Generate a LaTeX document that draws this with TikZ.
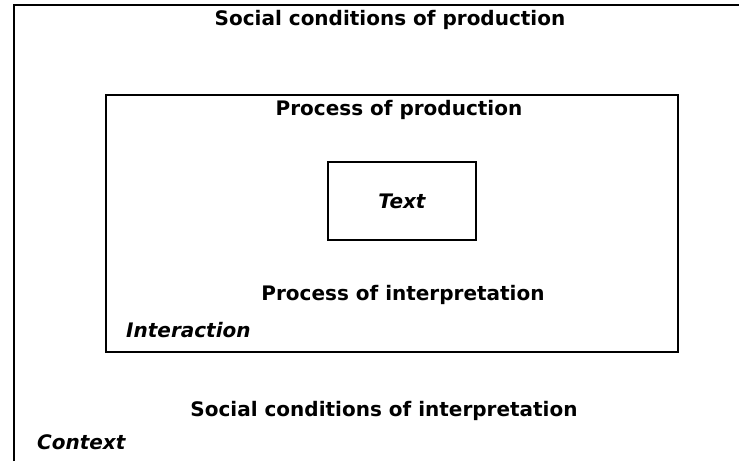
\documentclass[tikz,border=0pt]{standalone}
\usepackage{fontspec}
\setmainfont{DejaVu Sans}
\usetikzlibrary{positioning}
\begin{document}
\begin{tikzpicture}[x=1pt,y=-1pt,
   lbl/.style={font=\fontsize{20}{24}\selectfont\bfseries, inner sep=0pt},
   ilbl/.style={lbl, font=\fontsize{20}{24}\selectfont\bfseries\itshape},
   frame/.style={draw, line width=1.7pt, inner sep=0pt}]
   \useasboundingbox (0,0) rectangle (739,461);
   % outer context (cut off at right and bottom)
   \coordinate (ctxb) at (14,461);
   \coordinate (ctxtl) at (14,5);
   \coordinate (ctxr) at (739,5);
   \draw[line width=1.7pt] (ctxb) -- (ctxtl) -- (ctxr);
   % interaction box and text box
   \node (inter) [frame, minimum width=572pt, minimum height=257pt] at (392,223.5) {};
   \node (text) [frame, minimum width=148pt, minimum height=78pt] at (402,201) {};
   \node (tlab) [ilbl] at (402,201) {Text};
   \node (scp) [lbl] at (390,20) {Social conditions of production};
   \node (pp)  [lbl] at (399,110) {Process of production};
   \node (pi)  [lbl] at (403,295) {Process of interpretation};
   \node (ia)  [ilbl, anchor=west] at (126,330) {Interaction};
   \node (sci) [lbl] at (384,411) {Social conditions of interpretation};
   \node (ctx) [ilbl, anchor=west] at (37,442) {Context};
\end{tikzpicture}
\end{document}
